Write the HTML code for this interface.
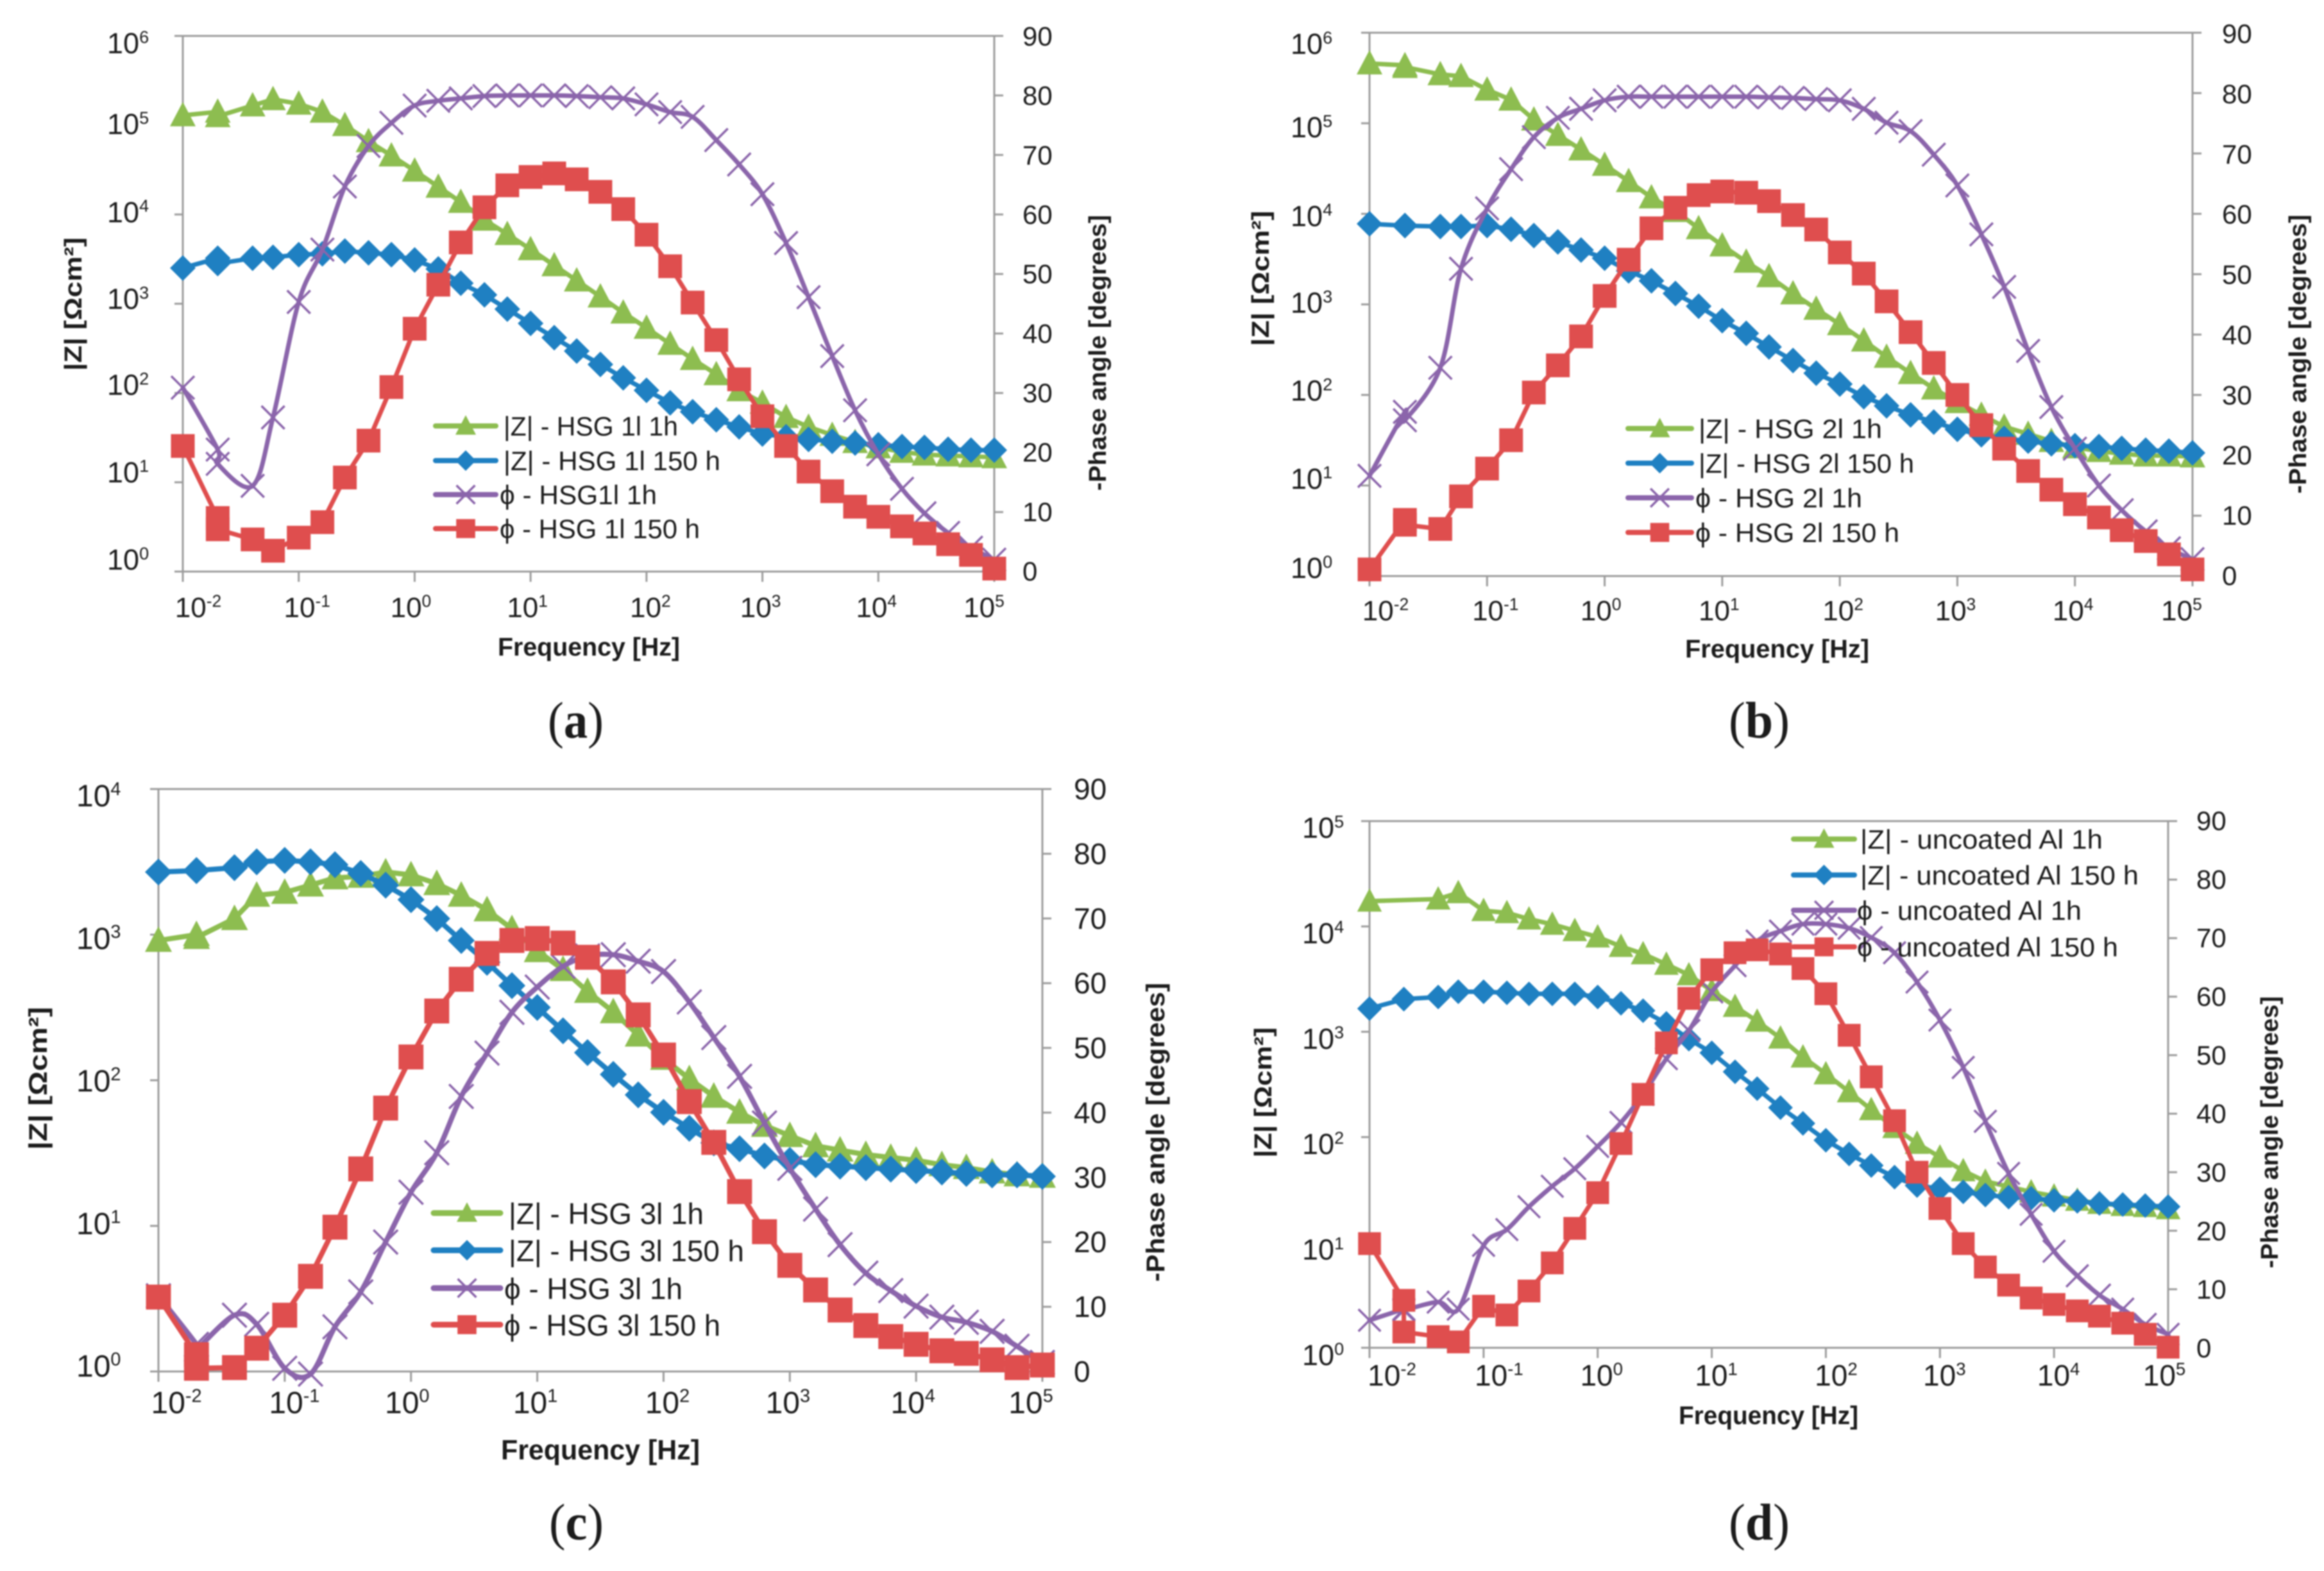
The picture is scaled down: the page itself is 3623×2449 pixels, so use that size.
<!DOCTYPE html>
<html lang="en">
<head>
<meta charset="utf-8">
<title>Bode plots of HSG coatings and uncoated Al</title>
<style>
html,body{margin:0;padding:0;background:#fff;}
svg{display:block;filter:blur(1px);}
text{font-family:"Liberation Sans",sans-serif;fill:#1c1c1c;}
.axis-title{font-weight:700;}
.panel-label{font-family:"Liberation Serif",serif;font-size:80px;}
</style>
</head>
<body>
<svg id="figure" xmlns="http://www.w3.org/2000/svg" width="3623" height="2449" viewBox="0 0 3623 2449">
<rect width="3623" height="2449" fill="#ffffff"/>

<g id="panel-a">
  <g class="plot"></g>
  <text class="axis-title" transform="translate(127,474) rotate(-90)" text-anchor="middle" font-size="38" textLength="208" lengthAdjust="spacingAndGlyphs">|Z| [Ωcm²]</text>
  <text class="axis-title" transform="translate(1724,550) rotate(-90)" text-anchor="middle" font-size="38" textLength="430" lengthAdjust="spacingAndGlyphs">-Phase angle [degrees]</text>
  <text class="axis-title" x="776" y="1022" font-size="40" textLength="284" lengthAdjust="spacingAndGlyphs">Frequency [Hz]</text>
  <text x="785" y="679" font-size="42" textLength="272" lengthAdjust="spacingAndGlyphs">|Z| - HSG 1l 1h</text>
  <text x="785" y="733" font-size="42" textLength="338" lengthAdjust="spacingAndGlyphs">|Z| - HSG 1l 150 h</text>
  <text x="779" y="786" font-size="42" textLength="245" lengthAdjust="spacingAndGlyphs">ϕ - HSG1l 1h</text>
  <text x="779" y="839" font-size="42" textLength="312" lengthAdjust="spacingAndGlyphs">ϕ - HSG 1l 150 h</text>
  <text class="panel-label" x="854" y="1150" textLength="87" lengthAdjust="spacingAndGlyphs">(<tspan font-weight="700">a</tspan>)</text>
</g>

<g id="panel-b">
  <g class="plot"></g>
  <text class="axis-title" transform="translate(1978,434) rotate(-90)" text-anchor="middle" font-size="38" textLength="211" lengthAdjust="spacingAndGlyphs">|Z| [Ωcm²]</text>
  <text class="axis-title" transform="translate(3595,552) rotate(-90)" text-anchor="middle" font-size="38" textLength="435" lengthAdjust="spacingAndGlyphs">-Phase angle [degrees]</text>
  <text class="axis-title" x="2627" y="1025" font-size="40" textLength="287" lengthAdjust="spacingAndGlyphs">Frequency [Hz]</text>
  <text x="2648" y="683" font-size="42" textLength="286" lengthAdjust="spacingAndGlyphs">|Z| - HSG 2l 1h</text>
  <text x="2648" y="737" font-size="42" textLength="336" lengthAdjust="spacingAndGlyphs">|Z| - HSG 2l 150 h</text>
  <text x="2643" y="791" font-size="42" textLength="260" lengthAdjust="spacingAndGlyphs">ϕ - HSG 2l 1h</text>
  <text x="2643" y="845" font-size="42" textLength="318" lengthAdjust="spacingAndGlyphs">ϕ - HSG 2l 150 h</text>
  <text class="panel-label" x="2695" y="1150" textLength="95" lengthAdjust="spacingAndGlyphs">(<tspan font-weight="700">b</tspan>)</text>
</g>

<g id="panel-c">
  <g class="plot"></g>
  <text class="axis-title" transform="translate(73,1681) rotate(-90)" text-anchor="middle" font-size="40" textLength="223" lengthAdjust="spacingAndGlyphs">|Z| [Ωcm²]</text>
  <text class="axis-title" transform="translate(1815,1765) rotate(-90)" text-anchor="middle" font-size="40" textLength="466" lengthAdjust="spacingAndGlyphs">-Phase angle [degrees]</text>
  <text class="axis-title" x="781" y="2275" font-size="44" textLength="310" lengthAdjust="spacingAndGlyphs">Frequency [Hz]</text>
  <text x="793" y="1908" font-size="46" textLength="304" lengthAdjust="spacingAndGlyphs">|Z| - HSG 3l 1h</text>
  <text x="793" y="1966" font-size="46" textLength="367" lengthAdjust="spacingAndGlyphs">|Z| - HSG 3l 150 h</text>
  <text x="786" y="2025" font-size="46" textLength="278" lengthAdjust="spacingAndGlyphs">ϕ - HSG 3l 1h</text>
  <text x="786" y="2082" font-size="46" textLength="337" lengthAdjust="spacingAndGlyphs">ϕ - HSG 3l 150 h</text>
  <text class="panel-label" x="856" y="2400" textLength="85" lengthAdjust="spacingAndGlyphs">(<tspan font-weight="700">c</tspan>)</text>
</g>

<g id="panel-d">
  <g class="plot"></g>
  <text class="axis-title" transform="translate(1982,1703) rotate(-90)" text-anchor="middle" font-size="38" textLength="203" lengthAdjust="spacingAndGlyphs">|Z| [Ωcm²]</text>
  <text class="axis-title" transform="translate(3551,1765) rotate(-90)" text-anchor="middle" font-size="38" textLength="424" lengthAdjust="spacingAndGlyphs">-Phase angle [degrees]</text>
  <text class="axis-title" x="2617" y="2220" font-size="40" textLength="280" lengthAdjust="spacingAndGlyphs">Frequency [Hz]</text>
  <text x="2900" y="1323" font-size="42" textLength="378" lengthAdjust="spacingAndGlyphs">|Z| - uncoated Al 1h</text>
  <text x="2900" y="1379" font-size="42" textLength="434" lengthAdjust="spacingAndGlyphs">|Z| - uncoated Al 150 h</text>
  <text x="2895" y="1434" font-size="42" textLength="350" lengthAdjust="spacingAndGlyphs">ϕ - uncoated Al 1h</text>
  <text x="2895" y="1491" font-size="42" textLength="407" lengthAdjust="spacingAndGlyphs">ϕ - uncoated Al 150 h</text>
  <text class="panel-label" x="2695" y="2400" textLength="95" lengthAdjust="spacingAndGlyphs">(<tspan font-weight="700">d</tspan>)</text>
</g>
</svg>

<script>
// Shared frequency sweep in Hz (0.02 Hz was measured twice in the source data)
const frequencies = [0.01,0.02,0.02,0.04,0.06,0.1,0.16,0.25,0.4,0.63,1,1.6,2.5,4,6.3,10,16,25,40,63,100,160,250,400,630,1000,1600,2500,4000,6300,10000,16000,25000,40000,63000,100000];
const frequencyTicks = [0.01,0.1,1,10,100,1000,10000,100000];
const frequencyTickExponents = ['-2','-1','0','1','2','3','4','5'];
const phaseTicks = [0,10,20,30,40,50,60,70,80,90];

// Panel (a): log10 |Z| and phase in degrees
const aLogZ1h = [5.11,5.15,5.10,5.22,5.29,5.24,5.15,5.00,4.82,4.66,4.49,4.31,4.14,3.94,3.78,3.61,3.43,3.26,3.08,2.90,2.73,2.55,2.38,2.21,2.03,1.89,1.73,1.62,1.53,1.45,1.39,1.34,1.31,1.30,1.29,1.28];
const aLogZ150h = [3.40,3.51,3.45,3.51,3.52,3.55,3.56,3.59,3.57,3.55,3.49,3.39,3.23,3.10,2.94,2.78,2.62,2.47,2.32,2.17,2.03,1.89,1.79,1.70,1.62,1.54,1.51,1.48,1.46,1.44,1.42,1.40,1.39,1.37,1.36,1.36];
const aPhase1h = [30.9,20.5,18.1,14.4,25.9,45.3,54.1,64.7,71.5,75.4,78.3,79.1,79.5,79.9,80,80,80,79.9,79.7,79.5,78.5,77.2,76.4,72.5,68.4,63.4,55.2,46.1,36.2,27.1,19.7,13.9,9.8,6.5,4.0,2.0];
const aPhase150h = [21.1,9.0,7.1,5.4,3.5,5.7,8.3,15.8,22.0,31.0,40.8,48.2,55.3,61.2,64.9,66.3,66.9,65.9,63.8,60.9,56.6,51.3,45.2,38.9,32.3,26.1,21.1,16.8,13.5,10.9,9.2,7.6,6.4,4.6,2.8,0.5];
const aZExponents = [0,1,2,3,4,5,6];

// Panel (b)
const bLogZ1h = [5.66,5.64,5.62,5.54,5.52,5.37,5.26,5.04,4.87,4.71,4.54,4.36,4.18,4.03,3.84,3.65,3.47,3.31,3.12,2.95,2.78,2.60,2.42,2.24,2.07,1.92,1.78,1.65,1.57,1.49,1.42,1.38,1.35,1.33,1.33,1.32];
const bLogZ150h = [3.89,3.87,3.87,3.86,3.86,3.87,3.83,3.76,3.69,3.60,3.51,3.37,3.26,3.12,2.98,2.82,2.68,2.53,2.38,2.24,2.12,1.98,1.88,1.78,1.70,1.62,1.56,1.52,1.49,1.46,1.44,1.43,1.41,1.39,1.38,1.36];
const bPhase1h = [16.6,27.2,25.8,34.5,50.9,60.9,67.4,72.7,75.9,77.4,78.8,79.4,79.4,79.4,79.4,79.4,79.4,79.3,79.2,79.0,78.8,77.4,75.1,73.7,69.8,64.7,56.6,47.9,37.3,28.0,21.1,15.0,10.9,7.4,4.6,2.8];
const bPhase150h = [1.1,9.3,8.5,7.8,13.2,17.8,22.5,30.4,34.9,39.7,46.4,52.4,57.6,61.0,63.1,63.7,63.5,62.1,59.8,57.4,53.6,50.1,45.5,40.4,35.3,30.0,25.0,21.1,17.4,14.3,11.9,9.7,7.6,5.8,3.6,1.1];
const bZExponents = [0,1,2,3,4,5,6];

// Panel (c)
const cLogZ1h = [2.96,3.00,2.98,3.11,3.27,3.29,3.34,3.39,3.40,3.43,3.41,3.35,3.27,3.17,3.04,2.89,2.76,2.61,2.47,2.31,2.15,2.01,1.89,1.78,1.69,1.62,1.55,1.52,1.49,1.47,1.45,1.42,1.40,1.37,1.35,1.34];
const cLogZ150h = [3.43,3.44,3.44,3.46,3.50,3.51,3.50,3.48,3.42,3.34,3.24,3.11,2.96,2.81,2.65,2.50,2.34,2.19,2.04,1.90,1.78,1.67,1.57,1.53,1.48,1.45,1.42,1.41,1.40,1.39,1.38,1.37,1.36,1.35,1.35,1.34];
const cPhase1h = [11.7,4.2,3.4,8.7,7.3,0.5,-0.4,6.9,12.3,20.0,27.7,33.8,42.5,49.2,55.5,59.4,62.6,64.2,64.4,63.4,61.8,57.1,51.6,45.6,38.4,31.4,25.1,19.6,15.2,12.5,10.1,8.4,7.6,6.2,3.9,1.4];
const cPhase150h = [11.5,2.6,0.5,0.6,3.6,8.7,14.7,22.3,31.3,40.7,48.6,55.7,60.6,64.6,66.6,66.9,66.2,64.0,60.2,55.1,48.9,41.7,35.4,27.8,21.6,16.4,12.6,9.5,7.1,5.4,4.2,3.2,2.8,1.8,0.6,1.0];
const cZExponents = [0,1,2,3,4];

// Panel (d): the 0.02 Hz |Z| 1 h readings are not shown in the source
const dLogZ1h = [4.24,null,null,4.26,4.32,4.15,4.13,4.07,4.02,3.96,3.90,3.81,3.74,3.64,3.54,3.39,3.24,3.10,2.94,2.76,2.60,2.43,2.26,2.09,1.94,1.81,1.68,1.58,1.53,1.48,1.44,1.40,1.37,1.35,1.34,1.32];
const dLogZ150h = [3.22,3.31,3.31,3.33,3.38,3.38,3.37,3.36,3.36,3.36,3.33,3.27,3.20,3.08,2.93,2.80,2.62,2.46,2.28,2.13,1.97,1.84,1.73,1.62,1.54,1.51,1.48,1.45,1.43,1.42,1.40,1.39,1.37,1.36,1.35,1.34];
const dPhase1h = [4.7,6.6,6.4,7.8,6.6,17.5,20.2,24.1,27.6,30.6,34.4,38.5,43.3,49.4,54.2,60.8,65.3,69.5,71.2,72.4,72.4,71.7,70.1,67.5,62.5,56.0,47.9,38.7,29.8,22.8,16.5,12.3,9.0,6.6,4.0,2.3];
const dPhase150h = [17.8,8.1,2.7,1.9,1.0,7.1,5.6,9.7,14.5,20.4,26.5,34.9,43.3,52.1,59.7,64.6,67.5,68.0,67.3,64.8,60.5,53.4,46.3,38.8,30.0,23.8,17.8,13.8,10.7,8.5,7.4,6.3,5.4,4.2,2.3,0.1];
const dZExponents = [0,1,2,3,4,5];

const NS = 'http://www.w3.org/2000/svg';
const COLORS = {z1h:'#8dbd50', z150h:'#1f80c2', p1h:'#8b65ab', p150h:'#df4e4e', axis:'#9c9c9c'};

const panels = [
  {id:'a', zExp:aZExponents, z1:aLogZ1h, z2:aLogZ150h, p1:aPhase1h, p2:aPhase150h,
   box:{left:285,right:1550,top:56,bottom:891}, mark:1, lineW:7,
   zLabel:{x:167,top:83,bottom:888,size:45,nudge:[0,-2,-4,-4,-5,-8,0]}, phLabel:{x:1594,top:71,bottom:905,size:42},
   xLabel:{y:962,size:44,nudge:[24,13,-6,-5,6,-3,-3,-16]},
   legend:{x1:679,x2:773,rows:[664,718,771,824]}},
  {id:'b', zExp:bZExponents, z1:bLogZ1h, z2:bLogZ150h, p1:bPhase1h, p2:bPhase150h,
   box:{left:2135,right:3418,top:51,bottom:898}, mark:1, lineW:7,
   zLabel:{x:2012,top:84,bottom:901,size:45,nudge:[0,-3,-4,-5,-4,-6,0]}, phLabel:{x:3464,top:67,bottom:912,size:42},
   xLabel:{y:967,size:44,nudge:[25,13,-6,-5,5,-3,-3,-17]},
   legend:{x1:2538,x2:2637,rows:[668,722,776,830]}},
  {id:'c', zExp:cZExponents, z1:cLogZ1h, z2:cLogZ150h, p1:cPhase1h, p2:cPhase150h,
   box:{left:247,right:1625,top:1230,bottom:2138}, mark:1.05, lineW:8,
   zLabel:{x:119,top:1257,bottom:2146,size:48,nudge:[0,0,0,0,0]}, phLabel:{x:1674,top:1246,bottom:2154,size:46},
   xLabel:{y:2203,size:48,nudge:[28,15,-6,-3,6,-3,-5,-18]},
   legend:{x1:676,x2:780,rows:[1891,1949,2008,2065]}},
  {id:'d', zExp:dZExponents, z1:dLogZ1h, z2:dLogZ150h, p1:dPhase1h, p2:dPhase150h,
   box:{left:2135,right:3380,top:1280,bottom:2101}, mark:0.96, lineW:7,
   zLabel:{x:2030,top:1306,bottom:2128,size:45,nudge:[0,0,0,0,0,0]}, phLabel:{x:3424,top:1294,bottom:2116,size:42},
   xLabel:{y:2160,size:46,nudge:[35,24,6,7,16,7,7,-6]},
   legend:{x1:2796,x2:2891,rows:[1308,1364,1419,1476]}}
];

function make(tag, attrs, parent) {
  const el = document.createElementNS(NS, tag);
  for (const k in attrs) el.setAttribute(k, attrs[k]);
  parent.appendChild(el);
  return el;
}

function xScale(box, f) {
  return box.left + (Math.log10(f) + 2) / 7 * (box.right - box.left);
}
function zScale(box, maxExp, logZ) {
  return box.bottom - logZ / maxExp * (box.bottom - box.top);
}
function phaseScale(box, deg) {
  return box.bottom - deg / 90 * (box.bottom - box.top);
}

function straightPath(pts) {
  return pts.map((p, i) => (i ? 'L' : 'M') + p[0].toFixed(1) + ' ' + p[1].toFixed(1)).join(' ');
}
function smoothPath(pts) {
  let d = 'M' + pts[0][0].toFixed(1) + ' ' + pts[0][1].toFixed(1);
  for (let i = 0; i < pts.length - 1; i++) {
    const p0 = pts[Math.max(i - 1, 0)], p1 = pts[i], p2 = pts[i + 1], p3 = pts[Math.min(i + 2, pts.length - 1)];
    const c1x = p1[0] + (p2[0] - p0[0]) / 6, c1y = p1[1] + (p2[1] - p0[1]) / 6;
    const c2x = p2[0] - (p3[0] - p1[0]) / 6, c2y = p2[1] - (p3[1] - p1[1]) / 6;
    d += ' C' + c1x.toFixed(1) + ' ' + c1y.toFixed(1) + ' ' + c2x.toFixed(1) + ' ' + c2y.toFixed(1) + ' ' + p2[0].toFixed(1) + ' ' + p2[1].toFixed(1);
  }
  return d;
}

function drawMarker(kind, x, y, s, color, parent, name) {
  let el;
  if (kind === 'triangle') {
    el = make('polygon', {points: [[x, y - 21 * s], [x + 20 * s, y + 17 * s], [x - 20 * s, y + 17 * s]].join(' '), fill: color}, parent);
  } else if (kind === 'diamond') {
    el = make('polygon', {points: [[x, y - 20 * s], [x + 20 * s, y], [x, y + 20 * s], [x - 20 * s, y]].join(' '), fill: color}, parent);
  } else if (kind === 'square') {
    el = make('rect', {x: x - 18.5 * s, y: y - 18.5 * s, width: 37 * s, height: 37 * s, fill: color}, parent);
  } else {
    el = make('path', {d: 'M' + (x - 18 * s) + ' ' + (y - 18 * s) + ' L' + (x + 18 * s) + ' ' + (y + 18 * s) + ' M' + (x + 18 * s) + ' ' + (y - 18 * s) + ' L' + (x - 18 * s) + ' ' + (y + 18 * s), stroke: color, 'stroke-width': 3.5, fill: 'none'}, parent);
  }
  
  
  return el;
}

function drawPowerLabel(exp, x, y, size, anchor, parent, name) {
  const t = make('text', {x: x, y: y, 'font-size': size, 'text-anchor': anchor}, parent);
  
  
  const base = make('tspan', {}, t);
  base.textContent = '10';
  const sup = make('tspan', {dy: -size * 0.36, 'font-size': size * 0.6}, t);
  sup.textContent = String(exp);
}

function drawSeries(panel, plot, key, values, toY, kind, color, smooth) {
  const box = panel.box;
  const group = make('g', {}, plot);
  
  
  const pts = [];
  values.forEach((v, i) => {
    if (v !== null) pts.push([xScale(box, frequencies[i]), toY(v)]);
  });
  const line = make('path', {d: smooth ? smoothPath(pts) : straightPath(pts), fill: 'none', stroke: color, 'stroke-width': panel.lineW, 'stroke-linejoin': 'round', 'stroke-linecap': 'round'}, group);
  
  
  pts.forEach(p => drawMarker(kind, p[0], p[1], panel.mark, color, group, 'panel-' + panel.id + '-point-' + key));
}

function drawAxes(panel, plot) {
  const box = panel.box;
  const maxExp = panel.zExp[panel.zExp.length - 1];
  const g = make('g', {stroke: COLORS.axis, 'stroke-width': 3, fill: 'none'}, plot);
  
  

  const leftAxis = make('line', {x1: box.left, x2: box.left, y1: box.top, y2: box.bottom}, g);
  
  

  const rightAxis = make('line', {x1: box.right, x2: box.right, y1: box.top, y2: box.bottom}, g);
  
  

  const topLine = make('line', {x1: box.left - 13, x2: box.right, y1: box.top, y2: box.top}, g);
  
  

  const bottomAxis = make('line', {x1: box.left - 13, x2: box.right, y1: box.bottom, y2: box.bottom}, g);
  
  

  panel.zExp.forEach((e, i) => {
    const y = zScale(box, maxExp, e);
    const tick = make('line', {x1: box.left - 13, x2: box.left, y1: y, y2: y}, g);
    
    
    const L = panel.zLabel;
    const ly = L.bottom + (L.top - L.bottom) * e / maxExp + L.nudge[i];
    drawPowerLabel(e, L.x, ly, L.size, 'start', plot, 'panel-' + panel.id + '-z-tick-label');
  });

  phaseTicks.forEach(d => {
    const y = phaseScale(box, d);
    const tick = make('line', {x1: box.right, x2: box.right + 14, y1: y, y2: y}, g);
    
    
    const L = panel.phLabel;
    const t = make('text', {x: L.x, y: L.bottom + (L.top - L.bottom) * d / 90, 'font-size': L.size}, plot);
    
    
    t.textContent = String(d);
  });

  frequencyTicks.forEach((f, i) => {
    const x = xScale(box, f);
    const tick = make('line', {x1: x, x2: x, y1: box.bottom, y2: box.bottom + 16}, g);
    
    
    const L = panel.xLabel;
    drawPowerLabel(frequencyTickExponents[i], x + L.nudge[i], L.y, L.size, 'middle', plot, 'panel-' + panel.id + '-frequency-tick-label');
  });
}

function drawLegendSwatch(panel, plot, row, kind, color, key) {
  const L = panel.legend;
  const y = L.rows[row];
  const group = make('g', {}, plot);
  
  
  const line = make('line', {x1: L.x1, x2: L.x2, y1: y, y2: y, stroke: color, 'stroke-width': panel.lineW + 1, 'stroke-linecap': 'round'}, group);
  
  
  drawMarker(kind, (L.x1 + L.x2) / 2, y, 0.8, color, group, 'panel-' + panel.id + '-legend-marker-' + key);
}

panels.forEach(panel => {
  const plot = document.querySelector('#panel-' + panel.id + ' .plot');
  const box = panel.box;
  const maxExp = panel.zExp[panel.zExp.length - 1];
  const zY = v => zScale(box, maxExp, v);
  const pY = v => phaseScale(box, v);
  drawAxes(panel, plot);
  drawSeries(panel, plot, 'z-1h', panel.z1, zY, 'triangle', COLORS.z1h, false);
  drawSeries(panel, plot, 'z-150h', panel.z2, zY, 'diamond', COLORS.z150h, false);
  drawSeries(panel, plot, 'phase-1h', panel.p1, pY, 'cross', COLORS.p1h, true);
  drawSeries(panel, plot, 'phase-150h', panel.p2, pY, 'square', COLORS.p150h, false);
  drawLegendSwatch(panel, plot, 0, 'triangle', COLORS.z1h, 'z-1h');
  drawLegendSwatch(panel, plot, 1, 'diamond', COLORS.z150h, 'z-150h');
  drawLegendSwatch(panel, plot, 2, 'cross', COLORS.p1h, 'phase-1h');
  drawLegendSwatch(panel, plot, 3, 'square', COLORS.p150h, 'phase-150h');
});
</script>
</body>
</html>
